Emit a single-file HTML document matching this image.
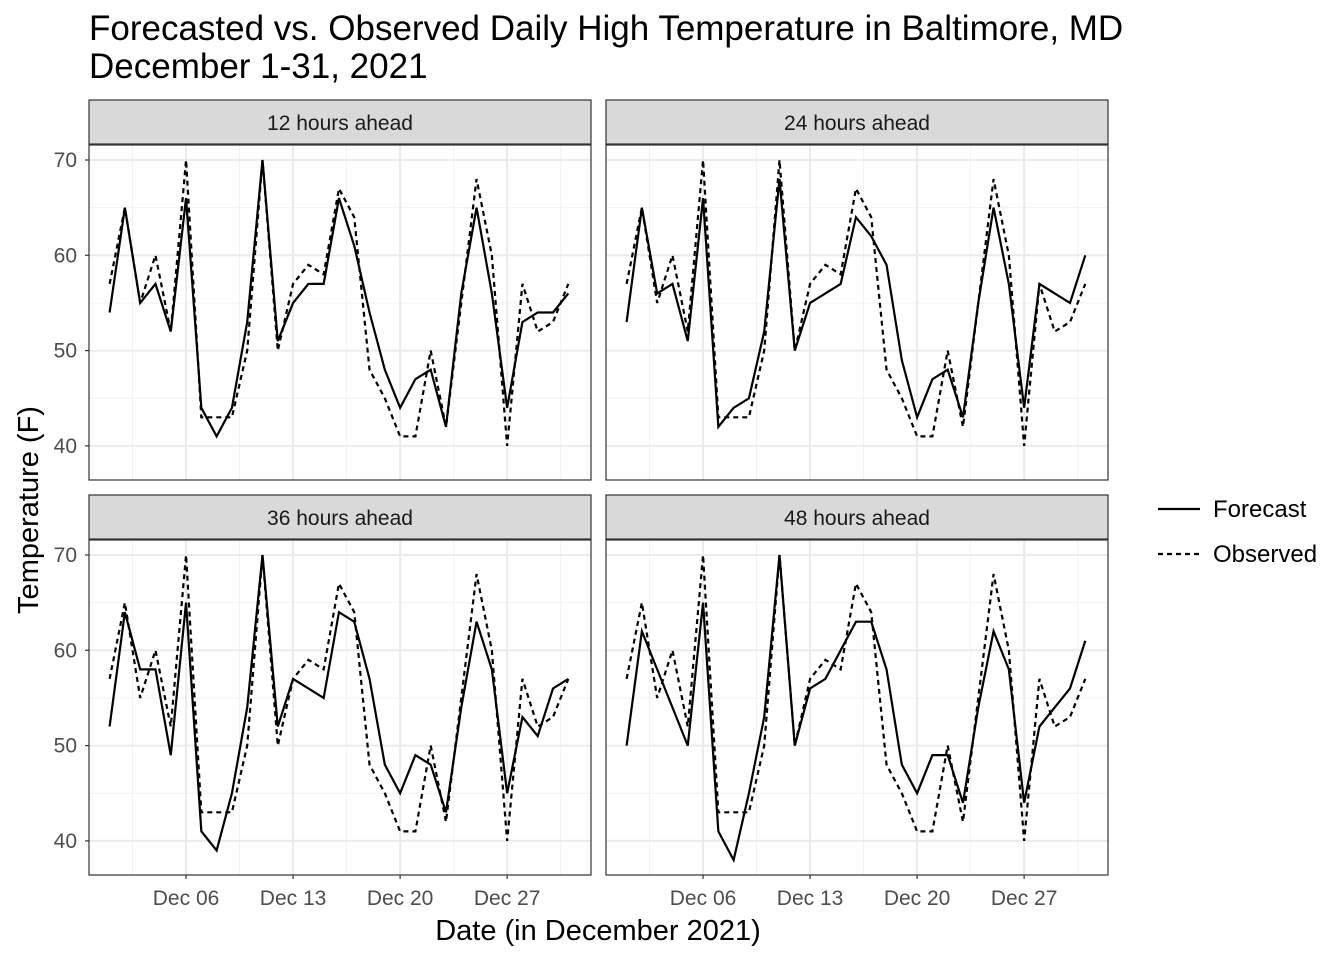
<!DOCTYPE html>
<html><head><meta charset="utf-8"><style>
html,body{margin:0;padding:0;background:#fff;}
svg{display:block;font-family:"Liberation Sans",sans-serif;}
</style></head><body>
<svg id="chart" width="1344" height="960" viewBox="0 0 1344 960" xmlns="http://www.w3.org/2000/svg">
<text x="89" y="40" font-size="35">Forecasted vs. Observed Daily High Temperature in Baltimore, MD</text>
<text x="89" y="78" font-size="35">December 1-31, 2021</text>
<text x="598" y="940" font-size="29" text-anchor="middle">Date (in December 2021)</text>
<text transform="translate(38,510) rotate(-90)" font-size="29" text-anchor="middle">Temperature (F)</text>
<g>
<line x1="1158" y1="509" x2="1200" y2="509" stroke="#000" stroke-width="2.2"/>
<text x="1213" y="517" font-size="24">Forecast</text>
<line x1="1158" y1="554" x2="1200" y2="554" stroke="#000" stroke-width="2.2" stroke-dasharray="5,4"/>
<text x="1213" y="562" font-size="24">Observed</text>
</g>
</svg>
<script>
const days = Array.from({length:31},(_,i)=>i+1);
const observed = [57,65,55,60,52,70,43,43,43,50,70,50,57,59,58,67,64,48,45,41,41,50,42,55,68,60,40,57,52,53,57];
const f12 = [54,65,55,57,52,66,44,41,44,53,70,51,55,57,57,66,61,54,48,44,47,48,42,56,65,56,44,53,54,54,56];
const f24 = [53,65,56,57,51,66,42,44,45,52,68,50,55,56,57,64,62,59,49,43,47,48,43,55,65,57,44,57,56,55,60];
const f36 = [52,64,58,58,49,65,41,39,45,54,70,52,57,56,55,64,63,57,48,45,49,48,43,54,63,58,45,53,51,56,57];
const f48 = [50,62,58,54,50,65,41,38,45,53,70,50,56,57,60,63,63,58,48,45,49,49,44,54,62,58,44,52,54,56,61];
const panelTitles = ["12 hours ahead","24 hours ahead","36 hours ahead","48 hours ahead"];
const yTicks = [40,50,60,70];
const xTickDays = [6,13,20,27];
const xTickLabels = ["Dec 06","Dec 13","Dec 20","Dec 27"];

const svg = document.getElementById('chart');
const NS = "http://www.w3.org/2000/svg";
function mk(tag, attrs){const e=document.createElementNS(NS,tag);for(const k in attrs)e.setAttribute(k,attrs[k]);svg.appendChild(e);return e;}
const forecasts=[f12,f24,f36,f48];
const panels=[{x:89,y:145},{x:606,y:145},{x:89,y:540},{x:606,y:540}];
const PW=502, PH=335;
panels.forEach((p,i)=>{
  const sx=d=>p.x+20.6+(d-1)*15.29;
  const sy=v=>p.y+15+(70-v)*9.53;
  const strip=mk('rect',{x:p.x,y:p.y-45,width:PW,height:44,fill:'#d9d9d9',stroke:'#333','stroke-width':1.2});
  
  
  const st=mk('text',{x:p.x+PW/2,y:p.y-15,'font-size':21,'text-anchor':'middle',fill:'#1a1a1a'});
  st.textContent=panelTitles[i];
  
  
  const bg=mk('rect',{x:p.x,y:p.y,width:PW,height:PH,fill:'#fff'});
  
  
  [45,55,65].forEach(v=>mk('line',{x1:p.x,x2:p.x+PW,y1:sy(v),y2:sy(v),stroke:'#f2f2f2','stroke-width':1}));
  [2.5,9.5,16.5,23.5,30.5].forEach(d=>mk('line',{x1:sx(d),x2:sx(d),y1:p.y,y2:p.y+PH,stroke:'#f2f2f2','stroke-width':1}));
  yTicks.forEach(v=>mk('line',{x1:p.x,x2:p.x+PW,y1:sy(v),y2:sy(v),stroke:'#ebebeb','stroke-width':2}));
  xTickDays.forEach(d=>mk('line',{x1:sx(d),x2:sx(d),y1:p.y,y2:p.y+PH,stroke:'#ebebeb','stroke-width':2}));
  const obs=mk('polyline',{points:days.map((d,j)=>sx(d)+','+sy(observed[j])).join(' '),fill:'none',stroke:'#000','stroke-width':2.2,'stroke-dasharray':'5,4'});
  
  
  const fc=mk('polyline',{points:days.map((d,j)=>sx(d)+','+sy(forecasts[i][j])).join(' '),fill:'none',stroke:'#000','stroke-width':2.2});
  
  
  const br=mk('rect',{x:p.x,y:p.y,width:PW,height:PH,fill:'none',stroke:'#333','stroke-width':1.2});
  
  
  if(i%2===0){
    yTicks.forEach(v=>{
      mk('line',{x1:p.x-4,x2:p.x,y1:sy(v),y2:sy(v),stroke:'#333','stroke-width':1.2});
      const t=mk('text',{x:p.x-12,y:sy(v)+7,'font-size':21,'text-anchor':'end',fill:'#4d4d4d'});
      t.textContent=v;
      
      
    });
  }
  if(i>=2){
    xTickDays.forEach((d,k)=>{
      mk('line',{x1:sx(d),x2:sx(d),y1:p.y+PH,y2:p.y+PH+4,stroke:'#333','stroke-width':1.2});
      const t=mk('text',{x:sx(d),y:p.y+PH+30,'font-size':21,'text-anchor':'middle',fill:'#4d4d4d'});
      t.textContent=xTickLabels[k];
      
      
    });
  }
});
</script>
</body></html>
